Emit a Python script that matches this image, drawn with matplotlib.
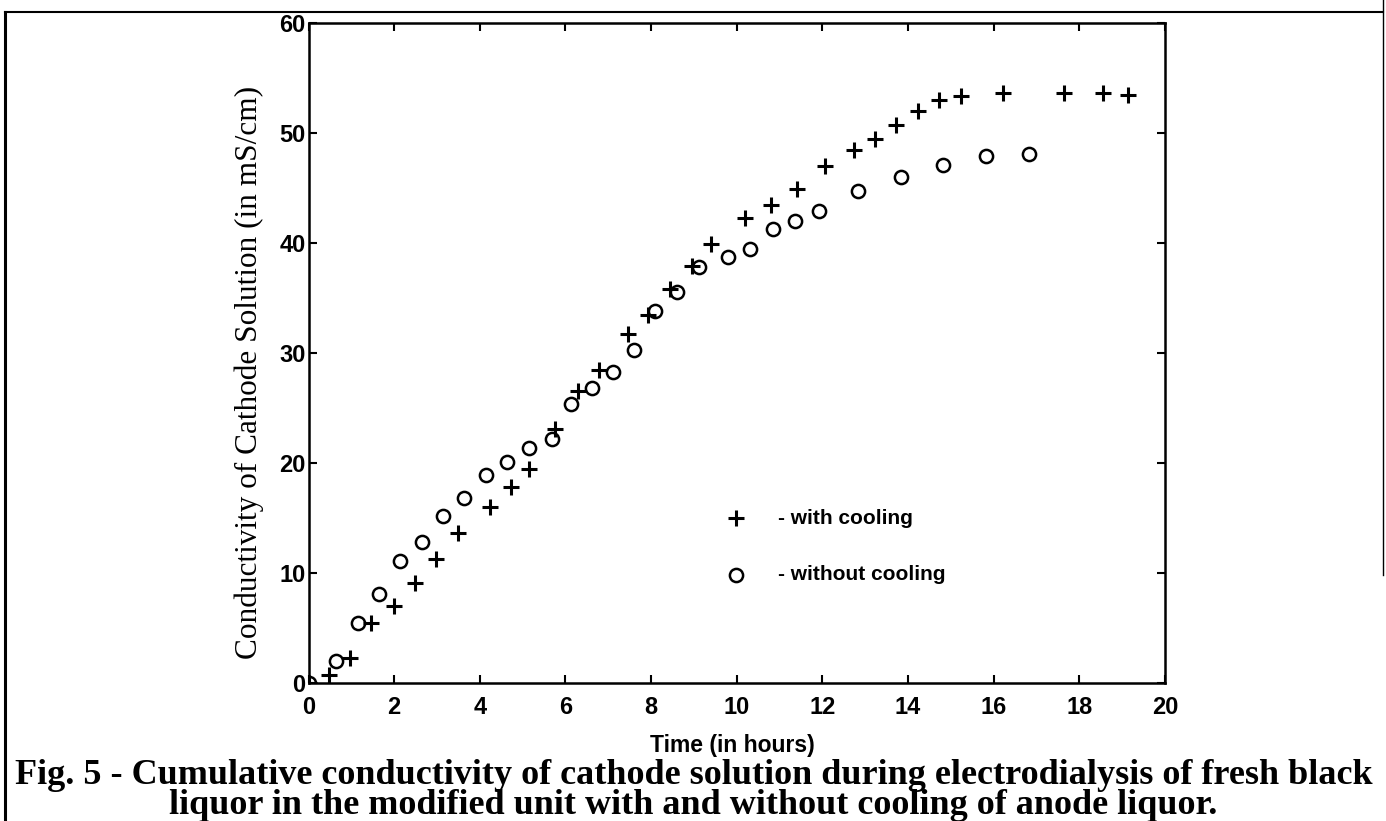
import numpy as np
import matplotlib
matplotlib.use("Agg")
import matplotlib.pyplot as plt
from matplotlib.lines import Line2D

# time (h) and cumulative conductivity (mS/cm)
t_cool = [0, 0.48, 0.98, 1.46, 2.0, 2.48, 2.97, 3.48, 4.23, 4.74, 5.16, 5.75, 6.29, 6.78,
          7.45, 7.92, 8.44, 8.96, 9.41, 10.2, 10.8, 11.4, 12.06, 12.74, 13.23, 13.72,
          14.23, 14.72, 15.24, 16.22, 17.65, 18.55, 19.13]
c_cool = [0, 0.75, 2.3, 5.45, 7.0, 9.15, 11.3, 13.7, 16.0, 17.8, 19.5, 23.1, 26.6, 28.5,
          31.75, 33.5, 35.8, 37.9, 39.9, 42.3, 43.5, 44.9, 47.0, 48.5, 49.5, 50.7,
          51.96, 52.96, 53.4, 53.6, 53.6, 53.6, 53.5]

t_nocool = [0, 0.64, 1.15, 1.64, 2.13, 2.65, 3.14, 3.62, 4.14, 4.63, 5.14, 5.69, 6.13, 6.62,
            7.1, 7.61, 8.1, 8.6, 9.13, 9.8, 10.3, 10.85, 11.35, 11.92, 12.83, 13.83,
            14.82, 15.82, 16.82]
c_nocool = [0, 2.05, 5.5, 8.1, 11.1, 12.8, 15.2, 16.8, 18.9, 20.15, 21.4, 22.2, 25.4, 26.8,
            28.3, 30.3, 33.8, 35.6, 37.8, 38.7, 39.5, 41.3, 42.0, 42.9, 44.7, 46.0,
            47.1, 47.9, 48.1]

xticks = np.arange(0, 21, 2)
yticks = np.arange(0, 61, 10)

sans = ['Liberation Sans', 'DejaVu Sans']
serif = ['Liberation Serif', 'DejaVu Serif']

fig = plt.figure(figsize=(13.86, 8.21), dpi=100)
ax = fig.add_axes([0.2226, 0.1677, 0.8405 - 0.2226, 0.972 - 0.1677])

ax.plot(t_cool, c_cool, linestyle='none', marker='+', markersize=11, mew=2.2, color='black')
ax.plot(t_nocool, c_nocool, linestyle='none', marker='o', markersize=9.5, mew=1.8,
        mfc='none', mec='black')

ax.set_xlim(0, 20)
ax.set_ylim(0, 60)
ax.set_xticks(xticks)
ax.set_yticks(yticks)
ax.tick_params(direction='in', top=True, right=True, length=6, width=1.5,
               labelsize=17)
ax.tick_params(axis='x', pad=9)
ax.tick_params(axis='y', pad=2)
for lab in ax.get_xticklabels() + ax.get_yticklabels():
    lab.set_family(sans)
    lab.set_fontweight('bold')
for s in ax.spines.values():
    s.set_linewidth(1.8)

ax.set_xlabel("Time (in hours)", family=sans, fontweight='bold', fontsize=16.5)
ax.xaxis.set_label_coords(0.495, -0.077)
ax.set_ylabel("Conductivity of Cathode Solution (in mS/cm)", family=serif, fontsize=22.5)
ax.yaxis.set_label_coords(-0.052, 0.471)

# legend written inside the plot
ax.plot([9.98], [15.0], linestyle='none', marker='+', markersize=11, mew=2.2, color='black')
ax.plot([9.98], [9.85], linestyle='none', marker='o', markersize=9.5, mew=1.8,
        mfc='none', mec='black')
ax.text(10.97, 15.0, "- with cooling", family=sans, fontweight='bold', fontsize=15,
        va='center', ha='left')
ax.text(10.97, 9.85, "- without cooling", family=sans, fontweight='bold', fontsize=15,
        va='center', ha='left')

# caption
fig.text(0.5007, 1 - 775 / 821, "Fig. 5 - Cumulative conductivity of cathode solution during "
         "electrodialysis of fresh black", family=serif, fontweight='bold', fontsize=26,
         ha='center', va='center')
fig.text(0.5, 1 - 805 / 821, "liquor in the modified unit with and without cooling of anode liquor.",
         family=serif, fontweight='bold', fontsize=26, ha='center', va='center')

# outer frame of the scanned figure
fx0, fx1, fy0 = 5 / 1386, 1383 / 1386, 1 - 12 / 821
fig.add_artist(Line2D([fx0, fx0], [0, fy0], color='black', lw=2.2))
fig.add_artist(Line2D([fx0, fx1], [fy0, fy0], color='black', lw=1.5))
fig.add_artist(Line2D([fx1, fx1], [0.3, 1], color='black', lw=1.0))

fig.savefig("out.png", dpi=100, facecolor='white')
